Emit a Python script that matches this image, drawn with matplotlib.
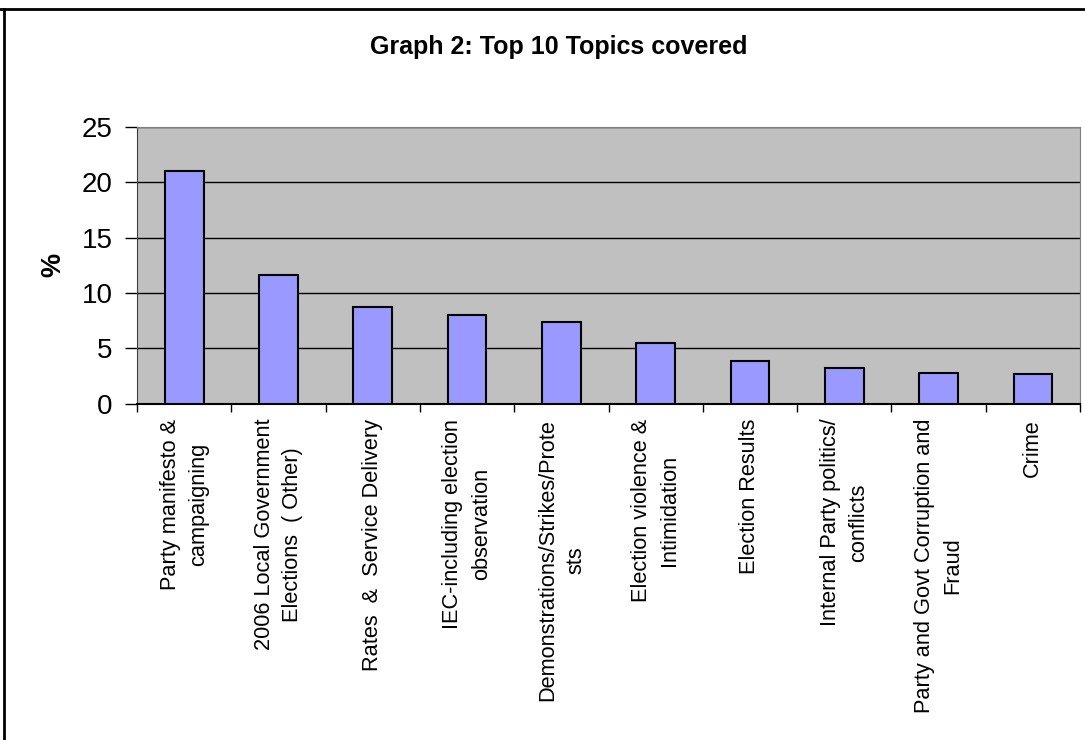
import matplotlib
matplotlib.use("Agg")
import matplotlib.pyplot as plt
import numpy as np
from matplotlib.lines import Line2D

plt.rcParams['font.family'] = ['Liberation Sans', 'DejaVu Sans']

topics = [
    "Party manifesto &\ncampaigning",
    "2006 Local Government\nElections  ( Other)",
    "Rates  &  Service Delivery",
    "IEC-including election\nobservation",
    "Demonstrations/Strikes/Prote\nsts",
    "Election violence &\nIntimidation",
    "Election Results",
    "Internal Party politics/\nconflicts",
    "Party and Govt Corruption and\nFraud",
    "Crime",
]
percent = [21.0, 11.6, 8.75, 7.97, 7.33, 5.49, 3.88, 3.25, 2.8, 2.65]
yticks = [0, 5, 10, 15, 20, 25]

fig = plt.figure(figsize=(10.85, 7.4), dpi=100)
ax = fig.add_axes([0.1263, 0.4547, 0.8691, 0.3737])
ax.set_facecolor('#C0C0C0')

x = np.arange(len(topics))
ax.bar(x, percent, width=0.41, color='#9999FF', edgecolor='black',
       linewidth=1.5, zorder=3)

ax.set_xlim(-0.5, len(topics) - 0.5)
ax.set_ylim(0, 25)
ax.set_yticks(yticks)
ax.set_yticklabels([str(v) for v in yticks], fontsize=20)
ax.yaxis.grid(True, color='black', linewidth=1, zorder=1)
ax.set_axisbelow(True)

ax.set_xticks(x)
ax.set_xticklabels(topics, rotation=90, fontsize=15.7, ha='center',
                   va='top', multialignment='center', linespacing=1.45)
ax.set_xticks(np.arange(len(topics) + 1) - 0.5, minor=True)
ax.tick_params(axis='x', which='major', length=0, pad=11)
ax.tick_params(axis='x', which='minor', length=6, width=1, color='black')
ax.tick_params(axis='y', length=9, width=1, pad=8.5)

for side in ['top', 'right']:
    ax.spines[side].set_color('#808080')
ax.spines['left'].set_color('#404040')
ax.spines['bottom'].set_color('black')
ax.spines['bottom'].set_linewidth(1.5)

ax.set_ylabel('%', fontsize=19.5, fontweight='bold')
ax.yaxis.set_label_coords(-0.0745, 0.5)

fig.text(0.5147, 0.936, 'Graph 2: Top 10 Topics covered', ha='center',
         va='center', fontsize=18, fontweight='bold')

# outer frame of the slide chart
fig.add_artist(Line2D([0, 1], [0.9875, 0.9875], color='black', linewidth=2,
                      transform=fig.transFigure))
fig.add_artist(Line2D([0.0037, 0.0037], [0, 0.9875], color='black',
                      linewidth=2, transform=fig.transFigure))

fig.savefig('out.png', dpi=100)
